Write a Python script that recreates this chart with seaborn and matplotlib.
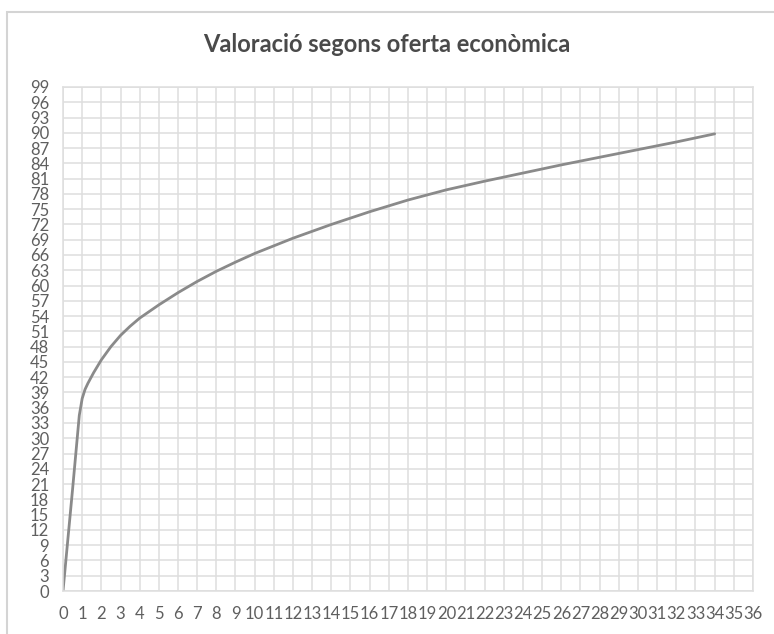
"""
Valoració segons oferta econòmica
Line chart of the score curve, drawn with seaborn
"""
import numpy as np
import pandas as pd
import matplotlib
matplotlib.use("Agg")
import matplotlib.pyplot as plt
import seaborn as sns
from matplotlib.patches import Rectangle

# Data
oferta = [0, 0.5, 0.85, 1.0, 1.15, 1.3, 1.6, 2, 2.5, 3, 3.5, 4, 5, 6, 7, 8,
          9, 10, 12, 14, 16, 18, 20, 22, 24, 26, 28, 30, 32, 34]
valoracio = [0, 20, 34.5, 37.8, 39.6, 40.8, 42.9, 45.4, 48.0, 50.2, 52.0,
             53.6, 56.2, 58.6, 60.8, 62.8, 64.6, 66.3, 69.3, 72.0, 74.5,
             76.8, 78.8, 80.5, 82.1, 83.7, 85.2, 86.7, 88.2, 89.8]
x_ticks = list(range(0, 37))
y_ticks = list(range(0, 100, 3))
title = "Valoració segons oferta econòmica"

df = pd.DataFrame({"oferta": oferta, "valoracio": valoracio})

sns.set_theme(style="whitegrid")
plt.rcParams["font.family"] = ["Lato", "DejaVu Sans"]

grid_color = "#dedede"
text_color = "#5f5f5f"

fig = plt.figure(figsize=(7.74, 6.34), dpi=100)
ax = fig.add_axes([63 / 774, 1 - 591 / 634, 690 / 774, 504 / 634])

sns.lineplot(data=df, x="oferta", y="valoracio", ax=ax,
             color="#8a8a8a", linewidth=2.0, sort=True)

ax.set_xlim(0, 36)
ax.set_ylim(0, 99)
ax.set_xticks(x_ticks)
ax.set_yticks(y_ticks)
ax.set_xticklabels([str(t) for t in x_ticks])
ax.set_yticklabels([str(t) for t in y_ticks])
ax.tick_params(axis="both", length=0, labelsize=12, colors=text_color)
ax.tick_params(axis="y", pad=10)
ax.tick_params(axis="x", pad=11)
ax.grid(True, color=grid_color, linewidth=1.1)
for side in ax.spines.values():
    side.set_color(grid_color)
    side.set_linewidth(1.1)
ax.set_xlabel("")
ax.set_ylabel("")

fig.text(0.5, 1 - 45 / 634, title, ha="center", va="center",
         fontsize=17, fontweight="bold", color="#4a4a4a")

# outer chart frame (only top/left visible in the crop)
fig.patches.append(Rectangle((7 / 774, -0.1), 1.2, 1 - 12 / 634 + 0.1,
                             transform=fig.transFigure, fill=False,
                             edgecolor="#d4d4d4", linewidth=1.5))

fig.savefig("out.png", dpi=100)
plt.close(fig)
